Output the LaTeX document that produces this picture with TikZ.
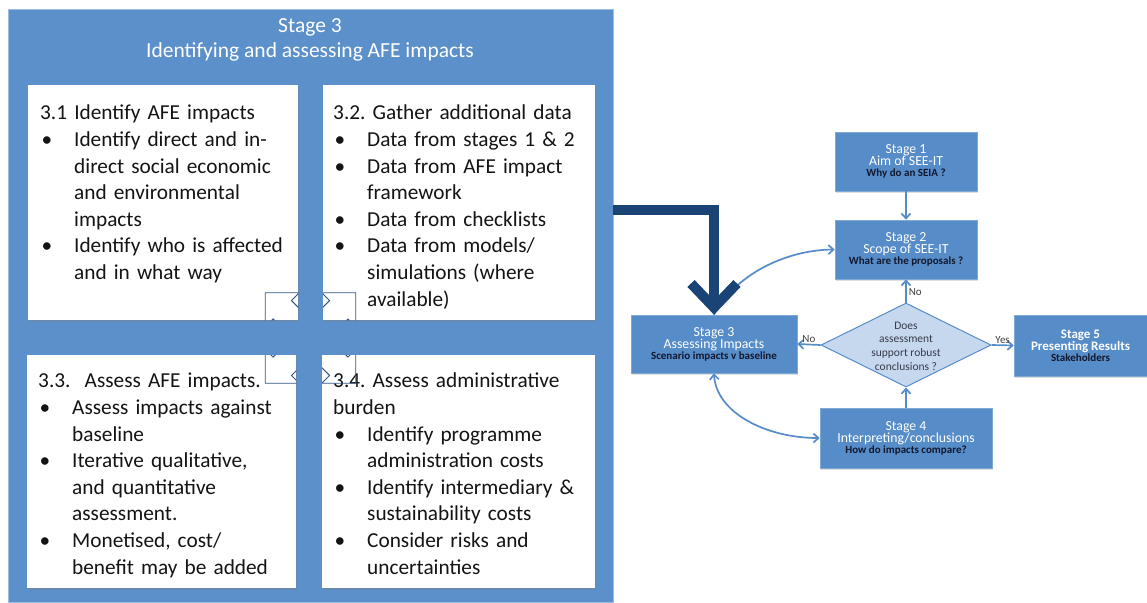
\documentclass[tikz,border=0pt]{standalone}
\usepackage{fontspec}
\setmainfont{Carlito}
\usetikzlibrary{arrows.meta,shadows,shapes.geometric,calc}
\definecolor{panelblue}{RGB}{92,144,202}
\definecolor{boxblue}{RGB}{86,140,200}
\definecolor{navy}{RGB}{26,68,118}
\definecolor{dmdfill}{RGB}{198,216,238}
\definecolor{darktxt}{RGB}{18,24,45}
\definecolor{crossline}{RGB}{55,85,135}
\newcommand{\bitem}[1]{\par\leftskip=34pt\noindent\hspace*{-34pt}\makebox[34pt][l]{\hspace{1.5pt}•}#1\par}
\frenchspacing
\begin{document}
\begin{tikzpicture}[x=1pt,y=-1pt,
  panelsty/.style={fill=panelblue, draw=panelblue!60!white, line width=0.8pt, inner sep=0pt, anchor=north west},
  wbox/.style={fill=white, draw=none, inner sep=0pt, anchor=north west,
     drop shadow={opacity=0.35, shadow xshift=1pt, shadow yshift=-1.5pt}},
  btxt/.style={anchor=north west, inner sep=0pt, text width=#1, align=left,
     font=\fontsize{21.3}{26.6}\selectfont, text=black!92},
  titletxt/.style={inner sep=0pt, align=center, text=white, font=\fontsize{21.5}{25}\selectfont},
  fbox/.style={fill=boxblue, draw=boxblue!75!white, line width=0.6pt, inner sep=0pt, align=center,
     text=white, drop shadow={opacity=0.25, shadow xshift=1pt, shadow yshift=-1.5pt}},
  dmd/.style={diamond, minimum width=170pt, minimum height=84pt, inner sep=0pt,
     fill=dmdfill, draw=boxblue, line width=1pt},
  dtxt/.style={align=center, inner sep=0pt, text=darktxt!85, font=\fontsize{11.5}{13.6}\selectfont},
  flow/.style={draw=boxblue, line width=1.7pt, -{Straight Barb[length=5pt,width=9pt]}},
  flow2/.style={draw=boxblue, line width=1.7pt, {Straight Barb[length=5pt,width=9pt]}-{Straight Barb[length=5pt,width=9pt]}},
  lbl/.style={inner sep=2pt, text=black!75, font=\fontsize{11}{13}\selectfont},
  bigarr/.style={draw=navy, line width=10pt, -{Straight Barb[length=24pt,width=46pt]}},
  crosssty/.style={draw=crossline, line width=0.9pt, line join=miter}
]
\useasboundingbox (0,0) rectangle (1147,602);
\fill[white] (0,0) rectangle (1147,602);

% ---------- left panel ----------
\node[panelsty, minimum width=605pt, minimum height=593pt] (panel) at (8,9) {};
\node[titletxt] (title) at (310,40) {Stage 3\\Identifying and assessing AFE impacts};

\node[wbox, minimum width=270pt, minimum height=235pt] (b31) at (28,85) {};
\node[wbox, minimum width=272pt, minimum height=235pt] (b32) at (323,85) {};
\node[wbox, minimum width=269pt, minimum height=233pt] (b33) at (27,355) {};
\node[wbox, minimum width=273pt, minimum height=233pt] (b34) at (322,355) {};

\node[btxt=255pt] (t31) at (40,105) {3.1 Identify AFE impacts
\bitem{Identify direct and in-\\direct social economic\\and environmental\\impacts}
\bitem{Identify who is affected\\and in what way}};

\node[btxt=258pt] (t32) at (333,105) {3.2. Gather additional data
\bitem{Data from stages 1 \& 2}
\bitem{Data from AFE impact\\framework}
\bitem{Data from checklists}
\bitem{Data from models/\\simulations (where\\available)}};

\node[btxt=255pt] (t33) at (38,373) {3.3.\ \ Assess AFE impacts.
\bitem{Assess impacts against\\baseline}
\bitem{Iterative qualitative,\\and quantitative\\assessment.}
\bitem{Monetised, cost/\\benefit may be added}};

\node[btxt=260pt] (t34) at (333,373) {3.4. Assess administrative\\burden
\bitem{Identify programme\\administration costs}
\bitem{Identify intermediary \&\\sustainability costs}
\bitem{Consider risks and\\uncertainties}};

% four-way arrow outline (visible over the white boxes)
\begin{scope}
\clip (b31.north west) rectangle (b31.south east)
      (b32.north west) rectangle (b32.south east)
      (b33.north west) rectangle (b33.south east)
      (b34.north west) rectangle (b34.south east);
\begin{scope}[shift={(310.5,338)}, rotate=45]
\draw[crosssty] (40,-13) -- (40,-24) -- (64,0) -- (40,24) -- (40,13) -- (13,13)
  -- (13,40) -- (24,40) -- (0,64) -- (-24,40) -- (-13,40) -- (-13,13)
  -- (-40,13) -- (-40,24) -- (-64,0) -- (-40,-24) -- (-40,-13) -- (-13,-13)
  -- (-13,-40) -- (-24,-40) -- (0,-64) -- (24,-40) -- (13,-40) -- (13,-13) -- cycle;
\end{scope}
\end{scope}

% ---------- right flowchart ----------
\node[fbox, minimum width=142pt, minimum height=59pt] (s1) at (906,161.5)
  {\fontsize{13.8}{15}\selectfont Stage 1\\\fontsize{13.8}{15}\selectfont Aim of SEE-IT\\[-1pt]{\color{darktxt}\bfseries\fontsize{11}{13}\selectfont Why do an SEIA ?}};
\node[fbox, minimum width=142pt, minimum height=59pt] (s2) at (906,249.5)
  {\fontsize{13.8}{15}\selectfont Stage 2\\\fontsize{13.8}{15}\selectfont Scope of SEE-IT\\[-1pt]{\color{darktxt}\bfseries\fontsize{11}{13}\selectfont What are the proposals ?}};
\node[fbox, minimum width=166pt, minimum height=58pt] (s3) at (714,344)
  {\fontsize{13.8}{15}\selectfont Stage 3\\\fontsize{13.8}{15}\selectfont Assessing Impacts\\[-1pt]{\color{darktxt}\bfseries\fontsize{11}{13}\selectfont Scenario impacts v baseline}};
\node[fbox, minimum width=172pt, minimum height=60pt] (s4) at (906,438)
  {\fontsize{13.8}{15}\selectfont Stage 4\\\fontsize{13.8}{15}\selectfont Interpreting/conclusions\\[-1pt]{\color{darktxt}\bfseries\fontsize{11}{13}\selectfont How do impacts compare?}};
\node[fbox, minimum width=133pt, minimum height=61pt] (s5) at (1080.5,345.5)
  {\bfseries\fontsize{13}{16}\selectfont Stage 5\\\bfseries\fontsize{13}{16}\selectfont Presenting Results\\[-1pt]{\color{darktxt}\bfseries\fontsize{11}{13}\selectfont Stakeholders}};
\node[dmd] (dmd) at (906,345) {};
\node[dtxt] (dq) at (906,346) {Does\\assessment\\support robust\\conclusions ?};

\draw[flow] (s1) -- (s2);
\draw[flow] (dmd.north) -- node[lbl, right, pos=0.45] {No} (s2.south);
\draw[flow] (dmd.west) -- node[lbl, above, yshift=-1pt] {No} (s3.east);
\draw[flow] (dmd.east) -- node[lbl, above, yshift=-1pt] {Yes} (s5.west);
\draw[flow] (s4.north) -- (dmd.south);
\draw[flow] (s3.north) .. controls (735,275) and (785,250) .. (s2.west);
\draw[flow2] (s3.south) .. controls (716,412) and (765,438) .. (s4.west);

% big arrow from the panel
\coordinate (bigstart) at (613,210);
\draw[bigarr] (bigstart) -| (s3.north);
\end{tikzpicture}
\end{document}
